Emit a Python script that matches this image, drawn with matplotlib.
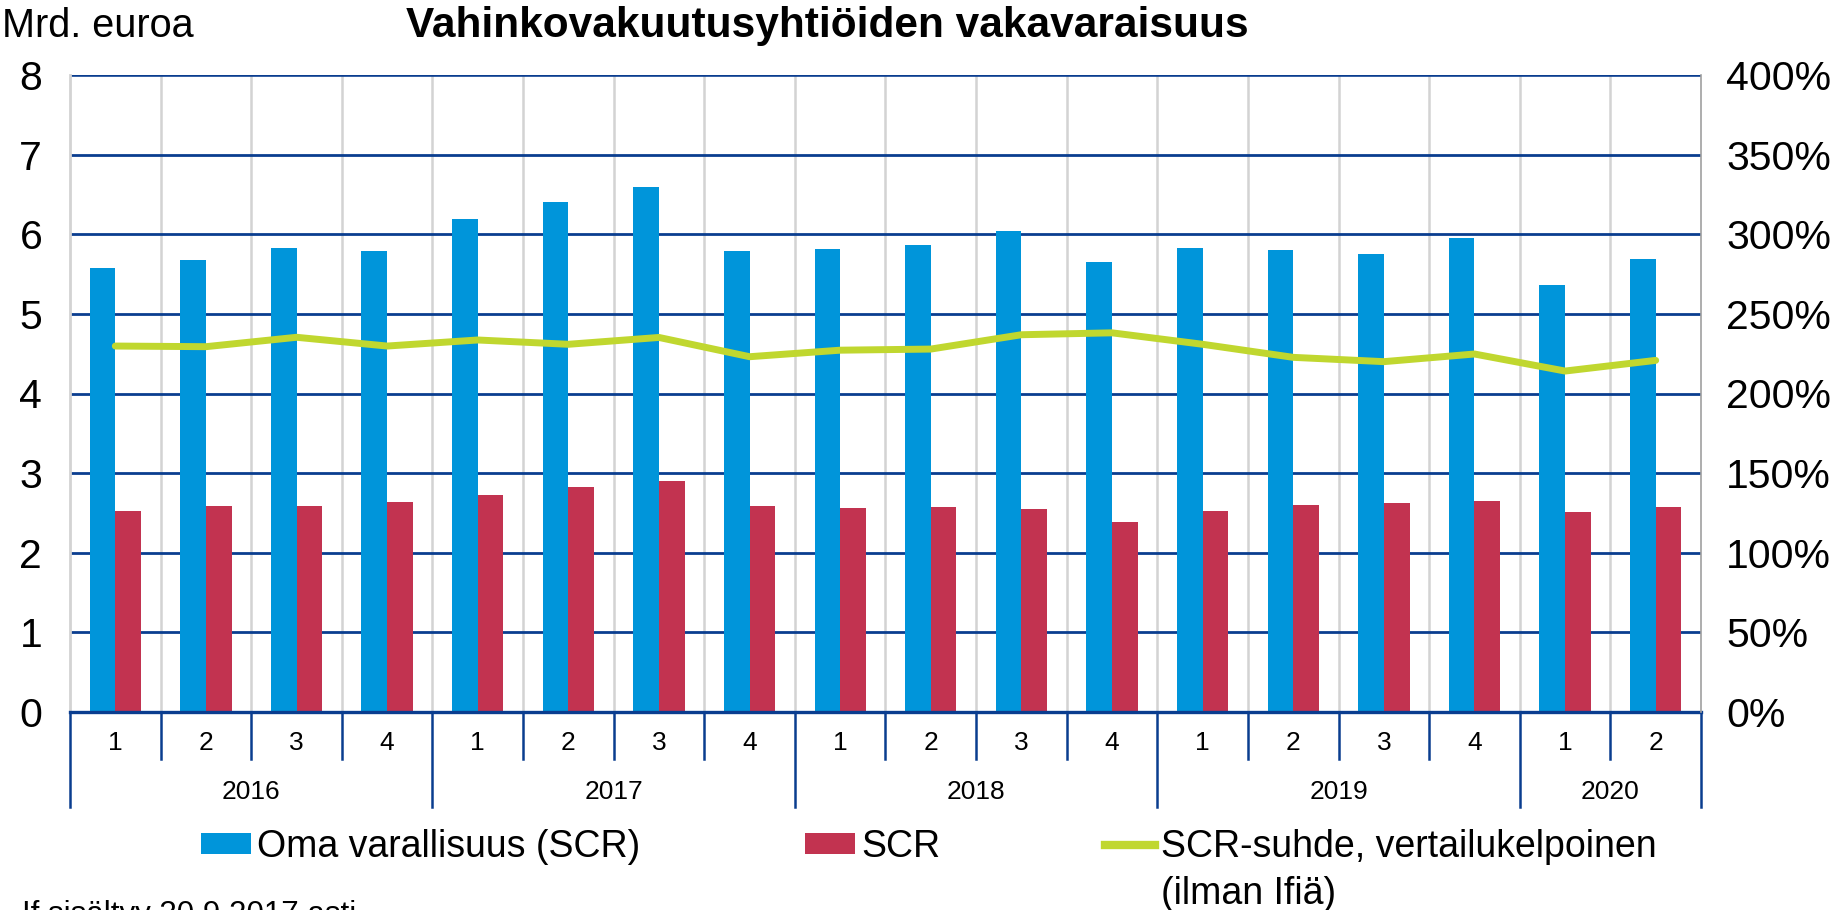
import numpy as np
import matplotlib
matplotlib.use("Agg")
import matplotlib.pyplot as plt
from matplotlib.patches import Patch
from matplotlib.lines import Line2D

# ── data ──────────────────────────────────────────────────────────────────────
years = ["2016", "2017", "2018", "2019", "2020"]
quarters_per_year = [4, 4, 4, 4, 2]
quarter_labels = ["1", "2", "3", "4"] * 4 + ["1", "2"]

own_funds = [5.57, 5.68, 5.83, 5.79,
             6.19, 6.40, 6.59, 5.79,
             5.81, 5.87, 6.04, 5.65,
             5.83, 5.80, 5.75, 5.95,
             5.36, 5.69]
scr = [2.53, 2.59, 2.59, 2.64,
       2.73, 2.83, 2.90, 2.59,
       2.56, 2.58, 2.55, 2.38,
       2.53, 2.60, 2.62, 2.65,
       2.51, 2.58]
scr_ratio = [229.8, 229.4, 235.3, 229.8,
             233.6, 230.9, 235.2, 223.1,
             227.2, 227.9, 236.9, 238.1,
             230.9, 222.7, 220.0, 224.8,
             214.1, 220.8]

BLUE = "#0095DA"
RED = "#C23350"
GREEN = "#C0D72F"
NAVY = "#0A3D8F"
GREY = "#D3D3D3"

plt.rcParams.update({
    "font.family": ["Liberation Sans", "DejaVu Sans"],
    "font.size": 27,
})

# ── figure ────────────────────────────────────────────────────────────────────
fig = plt.figure(figsize=(18.39, 9.10), dpi=100)
ax = fig.add_axes([70 / 1839, 1 - 712 / 910, (1701 - 70) / 1839, (712 - 75) / 910])

n = len(own_funds)
x = np.arange(n)
w = 0.283

ax.bar(x - w / 2, own_funds, width=w, color=BLUE, zorder=3)
ax.bar(x + w / 2, scr, width=w, color=RED, zorder=3)

ax.set_xlim(-0.5, n - 0.5)
ax.set_ylim(0, 8)
ax.set_yticks(range(0, 9))
ax.set_xticks([])
ax.tick_params(axis="y", length=0, pad=20, labelsize=29.5)

# gridlines
for v in range(1, 9):
    ax.axhline(v, color=NAVY, linewidth=2.0 if v < 8 else 2.6, zorder=2)
for b in np.arange(0.5, n - 1, 1.0):
    ax.axvline(b, color=GREY, linewidth=1.8, zorder=1)

for s in ["top", "right"]:
    ax.spines[s].set_visible(False)
ax.spines["left"].set_color(GREY)
ax.spines["left"].set_linewidth(2.0)
ax.spines["bottom"].set_color(NAVY)
ax.spines["bottom"].set_linewidth(2.4)
ax.spines["bottom"].set_zorder(4)

# secondary axis for the ratio
ax2 = ax.twinx()
ax2.set_ylim(0, 400)
ax2.set_yticks(range(0, 401, 50))
ax2.set_yticklabels([f"{v}%" for v in range(0, 401, 50)])
ax2.tick_params(axis="y", length=0, pad=18, labelsize=29.5)
for s in ["top", "left", "bottom"]:
    ax2.spines[s].set_visible(False)
ax2.spines["right"].set_color("#A0A0A0")
ax2.spines["right"].set_linestyle((0, (1, 1)))
ax2.spines["right"].set_linewidth(1.2)
ax2.plot(x, scr_ratio, color=GREEN, linewidth=5.0, solid_capstyle="round",
         solid_joinstyle="round", zorder=5)

# category axis: quarters and years
tr = ax.get_xaxis_transform()
q_end = (712 - 759) / 637
y_end = (712 - 807) / 637
for i, lab in enumerate(quarter_labels):
    ax.text(i, (712 - 743) / 637, lab, transform=tr, ha="center", va="center",
            fontsize=19)
bounds = np.concatenate([[0], np.cumsum(quarters_per_year)])
for b in range(n + 1):
    bottom = y_end if b in bounds else q_end
    ax.plot([b - 0.5, b - 0.5], [0, bottom], transform=tr, color=NAVY,
            linewidth=1.8, clip_on=False, zorder=4)
for yr, start, cnt in zip(years, bounds[:-1], quarters_per_year):
    ax.text(start - 0.5 + cnt / 2, (712 - 792) / 637, yr, transform=tr,
            ha="center", va="center", fontsize=19)

# titles
fig.text(2 / 1839, 1 - 26 / 910, "Mrd. euroa", ha="left", va="center", fontsize=28.5)
fig.text(827 / 1839, 1 - 26 / 910, "Vahinkovakuutusyhtiöiden vakavaraisuus",
         ha="center", va="center", fontsize=30.5, fontweight="bold")

# legend
handles = [Patch(facecolor=BLUE), Patch(facecolor=RED),
           Line2D([0], [0], color=GREEN, linewidth=6)]
labels = ["Oma varallisuus (SCR)", "SCR", "SCR-suhde, vertailukelpoinen"]
fig.legend(handles, labels, loc="center", bbox_to_anchor=(0.505, 1 - 847 / 910),
           ncol=3, frameon=False, fontsize=27, handlelength=1.33,
           handleheight=0.5, handletextpad=0.16, columnspacing=4.4)
fig.text(1161 / 1839, 1 - 894 / 910, "(ilman Ifiä)", ha="left", va="center",
         fontsize=27)

# footnote, partly below the picture edge as in the original
fig.text(22 / 1839, 1 - 900 / 910, "If sisältyy 30.9.2017 asti", ha="left",
         va="top", fontsize=22.5)

fig.savefig("out.png", dpi=100)
